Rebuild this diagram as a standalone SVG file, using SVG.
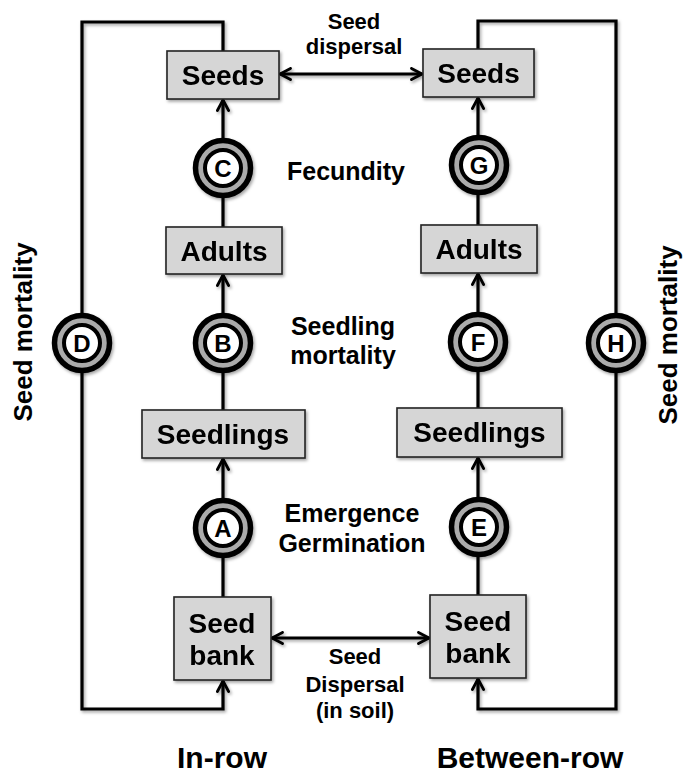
<svg xmlns="http://www.w3.org/2000/svg" width="683" height="775" viewBox="0 0 683 775">
<style>
text{font-family:"Liberation Sans",Arial,sans-serif;font-weight:bold;fill:#000;text-anchor:middle}
.box{fill:#d6d6d6;stroke:#222;stroke-width:1.6}
.bt{font-size:28px}
.lt{font-size:25px}
.st{font-size:22px}
.ct{font-size:24px}
.ln{fill:none;stroke:#000;stroke-width:3.2}
.ar{marker-end:url(#arr)}
.da{marker-start:url(#arr);marker-end:url(#arr)}
.o{fill:#ababab;stroke:#000;stroke-width:5.5}
.i{fill:#fff;stroke:#000;stroke-width:4}
</style>
<defs>
<marker id="arr" viewBox="0 0 10 10" refX="9" refY="5" markerWidth="14" markerHeight="14" markerUnits="userSpaceOnUse" orient="auto-start-reverse">
<path d="M1.5,1 L9,5 L1.5,9" fill="none" stroke="#000" stroke-width="2" stroke-linecap="round" stroke-linejoin="round"/>
</marker>
<filter id="sh" x="-20%" y="-20%" width="140%" height="140%">
<feDropShadow dx="1.5" dy="2" stdDeviation="1.5" flood-color="#000" flood-opacity="0.35"/>
</filter>
</defs>
<rect width="683" height="775" fill="#fff"/>

<g id="connectors" filter="url(#sh)">
<line class="ln" x1="223" y1="597" x2="223" y2="557"/>
<line class="ln ar" x1="223" y1="498" x2="223" y2="459"/>
<line class="ln" x1="223" y1="410" x2="223" y2="372"/>
<line class="ln ar" x1="223" y1="313" x2="223" y2="275"/>
<line class="ln" x1="223" y1="227" x2="223" y2="197"/>
<line class="ln ar" x1="223" y1="138" x2="223" y2="100"/>
<path class="ln ar" d="M223,51 V22 H82 V709 H223 V681"/>
<line class="ln" x1="478" y1="595" x2="478" y2="556"/>
<line class="ln ar" x1="478" y1="497" x2="478" y2="458"/>
<line class="ln" x1="478" y1="408" x2="478" y2="371"/>
<line class="ln ar" x1="478" y1="312" x2="478" y2="274"/>
<line class="ln" x1="478" y1="225" x2="478" y2="194"/>
<line class="ln ar" x1="478" y1="135" x2="478" y2="98"/>
<path class="ln ar" d="M478,49 V21 H616 V709 H478 V679"/>
<line class="ln da" x1="280" y1="74" x2="422" y2="74"/>
<line class="ln da" x1="272" y1="638" x2="429" y2="638"/>
</g>

<g id="seeds-in" filter="url(#sh)"><rect class="box" x="167" y="51" width="112" height="48"/><text class="bt" x="223" y="85">Seeds</text></g>
<g id="adults-in" filter="url(#sh)"><rect class="box" x="166" y="227" width="116" height="47"/><text class="bt" x="224" y="261">Adults</text></g>
<g id="seedlings-in" filter="url(#sh)"><rect class="box" x="142" y="410" width="163" height="48"/><text class="bt" x="223" y="444">Seedlings</text></g>
<g id="seedbank-in" filter="url(#sh)"><rect class="box" x="174" y="597" width="97" height="83"/><text class="bt" x="222" y="633">Seed</text><text class="bt" x="222" y="665">bank</text></g>

<g id="seeds-bt" filter="url(#sh)"><rect class="box" x="423" y="49" width="111" height="48"/><text class="bt" x="478.5" y="83">Seeds</text></g>
<g id="adults-bt" filter="url(#sh)"><rect class="box" x="421" y="225" width="116" height="48"/><text class="bt" x="479" y="259">Adults</text></g>
<g id="seedlings-bt" filter="url(#sh)"><rect class="box" x="397" y="408" width="165" height="49"/><text class="bt" x="479.5" y="442">Seedlings</text></g>
<g id="seedbank-bt" filter="url(#sh)"><rect class="box" x="430" y="595" width="96" height="83"/><text class="bt" x="478" y="631">Seed</text><text class="bt" x="478" y="663">bank</text></g>

<g id="circle-A"><circle class="o" cx="223" cy="528" r="27.5" filter="url(#sh)"/><circle class="i" cx="223" cy="528" r="18"/><text class="ct" x="223" y="536.5">A</text></g>
<g id="circle-B"><circle class="o" cx="223" cy="343" r="27.5" filter="url(#sh)"/><circle class="i" cx="223" cy="343" r="18"/><text class="ct" x="223" y="351.5">B</text></g>
<g id="circle-C"><circle class="o" cx="223" cy="168" r="27.5" filter="url(#sh)"/><circle class="i" cx="223" cy="168" r="18"/><text class="ct" x="223" y="176.5">C</text></g>
<g id="circle-D"><circle class="o" cx="82" cy="343" r="27.5" filter="url(#sh)"/><circle class="i" cx="82" cy="343" r="18"/><text class="ct" x="82" y="351.5">D</text></g>
<g id="circle-E"><circle class="o" cx="479" cy="527" r="27.5" filter="url(#sh)"/><circle class="i" cx="479" cy="527" r="18"/><text class="ct" x="479" y="535.5">E</text></g>
<g id="circle-F"><circle class="o" cx="478" cy="342" r="27.5" filter="url(#sh)"/><circle class="i" cx="478" cy="342" r="18"/><text class="ct" x="478" y="350.5">F</text></g>
<g id="circle-G"><circle class="o" cx="479" cy="165" r="27.5" filter="url(#sh)"/><circle class="i" cx="479" cy="165" r="18"/><text class="ct" x="479" y="173.5">G</text></g>
<g id="circle-H"><circle class="o" cx="616" cy="343" r="27.5" filter="url(#sh)"/><circle class="i" cx="616" cy="343" r="18"/><text class="ct" x="616" y="351.5">H</text></g>

<g id="labels">
<text class="st" x="354" y="29">Seed</text>
<text class="st" x="354" y="54">dispersal</text>
<text class="lt" x="346" y="180">Fecundity</text>
<text class="lt" x="343" y="335">Seedling</text>
<text class="lt" x="343" y="364">mortality</text>
<text class="lt" x="352" y="522">Emergence</text>
<text class="lt" x="352" y="552">Germination</text>
<text class="st" x="355" y="664">Seed</text>
<text class="st" x="355" y="692">Dispersal</text>
<text class="st" x="355" y="718">(in soil)</text>
<text style="font-size:26px" transform="translate(32,332) rotate(-90)" x="0" y="0">Seed mortality</text>
<text style="font-size:26px" transform="translate(677,335) rotate(-90)" x="0" y="0">Seed mortality</text>
<text style="font-size:30px" x="222" y="768">In-row</text>
<text style="font-size:30px" x="530" y="768">Between-row</text>
</g>
</svg>
